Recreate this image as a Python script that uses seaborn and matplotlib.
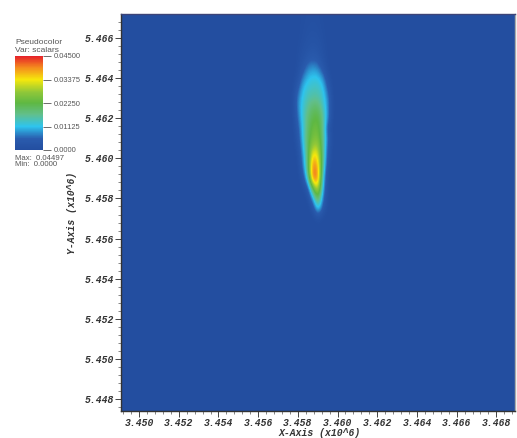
import numpy as np
import pandas as pd
import matplotlib
matplotlib.use("Agg")
import matplotlib.pyplot as plt
from matplotlib.colors import LinearSegmentedColormap
from matplotlib.ticker import FixedLocator
import seaborn as sns

x_ticks = [3.450, 3.452, 3.454, 3.456, 3.458, 3.460, 3.462, 3.464, 3.466, 3.468]
y_ticks = [5.448, 5.450, 5.452, 5.454, 5.456, 5.458, 5.460, 5.462, 5.464, 5.466]
cbar_ticks = [0.0, 0.01125, 0.0225, 0.03375, 0.045]
cbar_labels = ["0.0000", "0.01125", "0.02250", "0.03375", "0.04500"]
xlim = (3.44909, 3.46894)
ylim = (5.44740, 5.46720)

# plume values, in units of 0.001
# (columns run left to right, rows top to bottom)
plume = [
    [0, 0.0, 0.3, 0.7, 1.0, 1.2, 1.0, 0.5, 0.1, 0],
    [0, 0.0, 0.3, 0.8, 1.3, 1.5, 1.3, 0.7, 0.1, 0],
    [0, 0.0, 0.4, 1.0, 1.8, 2.1, 1.8, 0.9, 0.2, 0],
    [0, 0.0, 0.6, 1.6, 2.7, 3.2, 2.7, 1.3, 0.3, 0],
    [0, 0.0, 0.8, 2.5, 4.0, 5.0, 4.0, 2.0, 0.4, 0],
    [0, 0.1, 1.0, 4.0, 8.0, 9.0, 8.0, 3.5, 0.5, 0],
    [0, 0.2, 2.0, 8.0, 11.0, 12.0, 12.0, 9.0, 2.0, 0],
    [0, 0.3, 5.0, 11.0, 13.0, 14.0, 14.0, 12.0, 5.0, 0],
    [0, 0.4, 8.0, 12.0, 15.0, 16.0, 16.0, 13.0, 8.0, 0.2],
    [0, 0.3, 8.0, 13.0, 17.0, 20.0, 20.0, 15.0, 8.0, 0.2],
    [0, 0.2, 6.5, 13.0, 19.0, 22.0, 23.0, 17.0, 8.0, 0.1],
    [0, 0.0, 4.5, 12.0, 20.0, 24.0, 24.0, 18.0, 3.0, 0],
    [0, 0.0, 3.0, 12.0, 21.0, 25.0, 26.0, 18.0, 6.0, 0],
    [0, 0.0, 1.5, 10.0, 21.0, 30.0, 30.0, 18.0, 4.0, 0],
    [0, 0.0, 0.5, 8.0, 20.0, 38.0, 34.0, 18.0, 3.0, 0],
    [0, 0.0, 0.1, 6.0, 20.0, 42.0, 38.0, 16.0, 1.0, 0],
    [0, 0.0, 0.0, 2.5, 15.0, 43.0, 40.0, 12.0, 0.3, 0],
    [0, 0.0, 0.0, 0.5, 4.0, 24.0, 34.0, 10.0, 0.1, 0],
    [0, 0.0, 0.0, 0.0, 0.5, 10.0, 24.0, 7.0, 0.0, 0],
    [0, 0.0, 0.0, 0.0, 0.0, 2.0, 15.0, 4.0, 0.0, 0],
    [0, 0.0, 0.0, 0.0, 0.0, 0.0, 1.5, 0.3, 0.0, 0],
]

ny, nx = 40, 79
field = np.zeros((ny, nx))
field[0:len(plume), 33:33 + len(plume[0])] = np.array(plume) * 0.001
df = pd.DataFrame(field)

cmap = LinearSegmentedColormap.from_list("visit", [
    (0.00, "#234ea0"), (0.12, "#2a5cae"), (0.25, "#2ec4ee"),
    (0.38, "#62bf8a"), (0.50, "#5eb843"), (0.62, "#92c838"),
    (0.75, "#f6e80c"), (0.88, "#f48a1e"), (1.00, "#e6202a"),
])

sns.set_theme(style="white")
fig = plt.figure(figsize=(5.17, 4.38), dpi=100, facecolor="white")
W, H = 517.0, 438.0
ax = fig.add_axes([121 / W, 1 - 411 / H, 394 / W, 397 / H])
cax = fig.add_axes([15 / W, 1 - 150 / H, 28 / W, 94 / H])

sns.heatmap(df, ax=ax, cmap=cmap, vmin=0, vmax=0.045, cbar=True, cbar_ax=cax,
            xticklabels=False, yticklabels=False)
ax.imshow(field, extent=(0, nx, ny, 0), cmap=cmap, vmin=0, vmax=0.045,
          aspect="auto", interpolation="bicubic", zorder=2)
ax.set_xlim(0, nx)
ax.set_ylim(ny, 0)


def to_x(v):
    return (np.asarray(v) - xlim[0]) / (xlim[1] - xlim[0]) * nx


def to_y(v):
    return (ylim[1] - np.asarray(v)) / (ylim[1] - ylim[0]) * ny


mono = dict(family="Liberation Mono", weight="bold", style="italic", size=7, color="#333333")
ax.set_xticks(to_x(x_ticks))
ax.set_xticklabels([f"{v:.3f}" for v in x_ticks], rotation=0, **mono)
ax.set_yticks(to_y(y_ticks))
ax.set_yticklabels([f"{v:.3f}" for v in y_ticks], rotation=0, **mono)
ax.xaxis.set_minor_locator(FixedLocator(to_x(np.arange(3.4492, 3.4690, 0.0004))))
ax.yaxis.set_minor_locator(FixedLocator(to_y(np.arange(5.4476, 5.4672, 0.0004))))
ax.tick_params(which="major", bottom=True, left=True, length=4, width=0.7, color="#444444", pad=1)
ax.tick_params(which="minor", bottom=True, left=True, length=2, width=0.5, color="#555555")
for side, col in [("left", "#333333"), ("bottom", "#333333"), ("top", "#3d4478"), ("right", "#aaaaaa")]:
    ax.spines[side].set_visible(True)
    ax.spines[side].set_color(col)
    ax.spines[side].set_linewidth(1.0)

fig.text(320 / W, 1 - 432.5 / H, "X-Axis (x10^6)", ha="center", va="center", **mono)
fig.text(72 / W, 1 - 213 / H, "Y-Axis (x10^6)", ha="center", va="center", rotation=90, **mono)

cax.yaxis.set_ticks(cbar_ticks)
cax.set_yticklabels(cbar_labels, family="Liberation Sans", size=5.4, color="#555555")
cax.yaxis.set_ticks_position("right")
cax.tick_params(right=True, length=6, width=0.6, color="#555555", pad=1.5)
for s in cax.spines.values():
    s.set_visible(False)

small = dict(family="Liberation Sans", size=6, color="#555555", ha="left", va="center")
fig.text(15 / W, 1 - 42.5 / H, "Pseudocolor", **small)
fig.text(15 / W, 1 - 50.5 / H, "Var: scalars", **small)
fig.text(15 / W, 1 - 158 / H, "Max:  0.04497", size=5.6, family="Liberation Sans", color="#555555", ha="left", va="center")
fig.text(15 / W, 1 - 165 / H, "Min:  0.0000", size=5.6, family="Liberation Sans", color="#555555", ha="left", va="center")

fig.savefig("out.png", dpi=100, facecolor="white")
